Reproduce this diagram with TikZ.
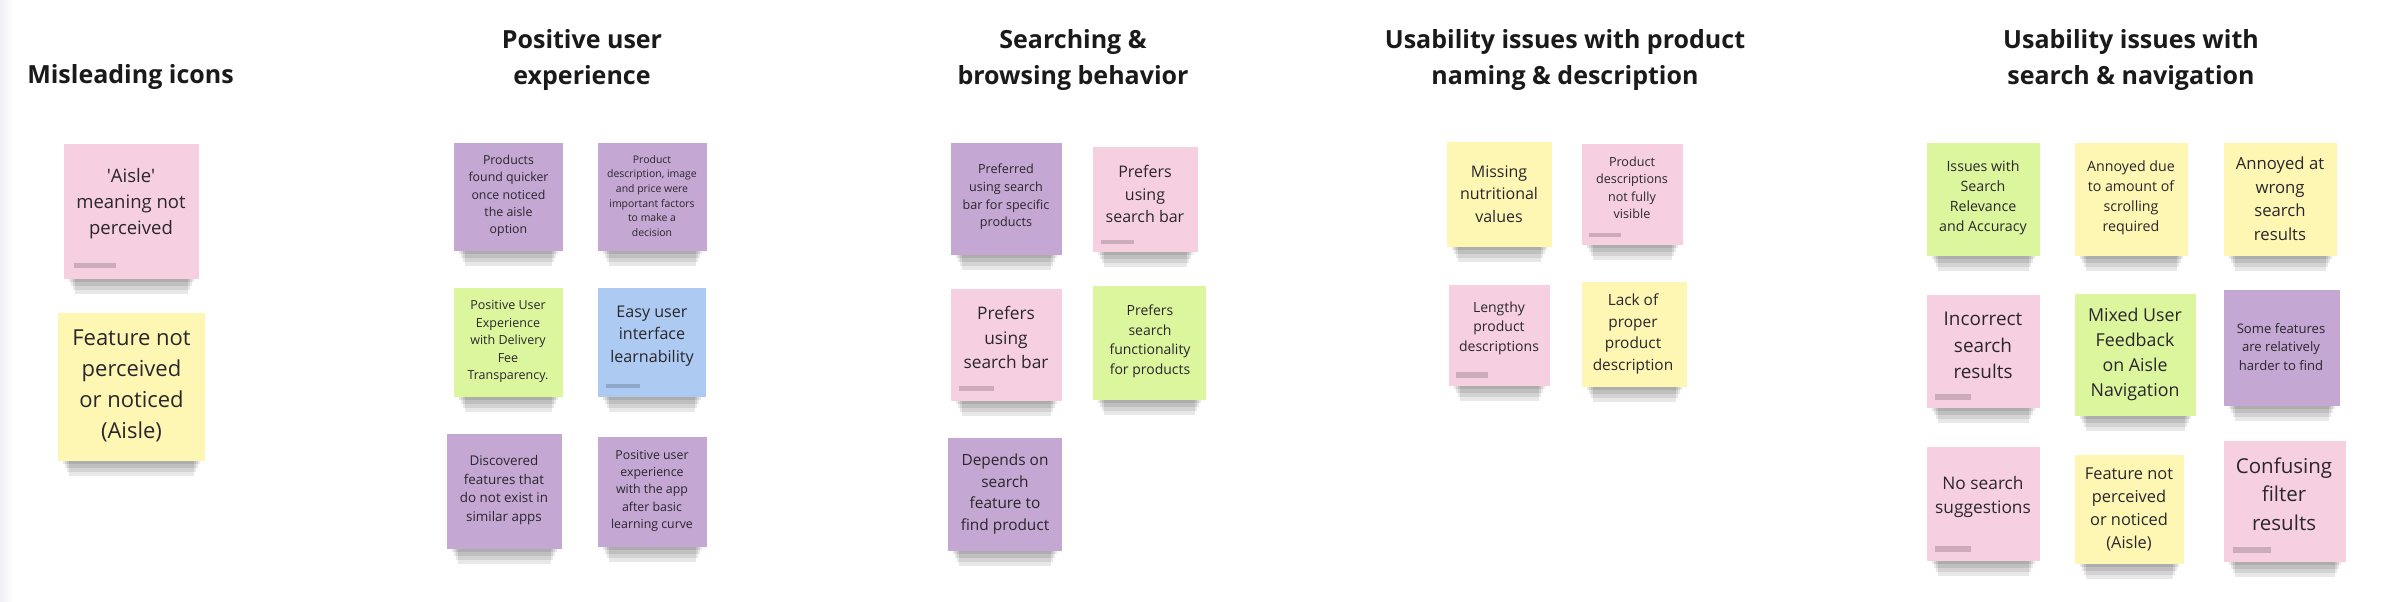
\documentclass[tikz,border=0pt]{standalone}
\usepackage{fontspec}
\setmainfont{Open Sans}
\usepackage{xcolor}
\usepackage{tikz}

\definecolor{notepink}{RGB}{246,208,224}
\definecolor{noteyellow}{RGB}{254,247,180}
\definecolor{notepurple}{RGB}{196,167,210}
\definecolor{notegreen}{RGB}{220,246,158}
\definecolor{noteblue}{RGB}{173,203,242}
\definecolor{notetext}{RGB}{42,38,44}
\definecolor{headtext}{RGB}{26,26,26}
\definecolor{sidestrip}{RGB}{240,240,245}

% sticky note with its soft shadow: colour, x1, y1, x2, y2 (pixels, y down)
\newcommand{\stickynote}[5]{%
  \foreach \k in {1,...,4}
    \fill[black, opacity=0.09] ({#2+3+2*\k},{#5-2}) rectangle ({#4-3-2*\k},{#5+4*\k-1});
  \fill[#1] (#2,#3) rectangle (#4,#5);
}

\begin{document}
\begin{tikzpicture}[x=1pt, y=-1pt,
    heading/.style={align=center, inner sep=0pt, text=headtext,
      font=\fontsize{25}{36}\selectfont\bfseries},
    note/.style={align=center, inner sep=0pt, text=notetext},
    tagbar/.style={fill=black, opacity=0.17}]

    % Board
    \useasboundingbox (0,0) rectangle (2388,602);
    \fill[white] (0,0) rectangle (2388,602);
    \shade[left color=sidestrip, right color=white] (0,0) rectangle (14,602);

    % Misleading icons
    \node[heading] (misleading) at (130.5,77.5) {Misleading icons};
    \stickynote{notepink}{64}{144}{199}{279}
    \fill[tagbar] (74,263) rectangle (116,268);
    \node[note, font=\fontsize{18.5}{25.9}\selectfont] (aislemeaning) at (131,203.3)
        {\textquotesingle Aisle\textquotesingle\\meaning not\\perceived};
    \stickynote{noteyellow}{58}{313}{205}{461}
    \node[note, font=\fontsize{22}{30.7}\selectfont] (featureone) at (131.5,385.9)
        {Feature not\\perceived\\or noticed\\(Aisle)};

    % Positive user experience
    \node[heading] (positive) at (582,60) {Positive user\\experience};
    \stickynote{notepurple}{454}{143}{563}{251}
    \node[note, font=\fontsize{12.35}{17.3}\selectfont] (quicker) at (508.5,195.8)
        {Products\\found quicker\\once noticed\\the aisle\\option};
    \stickynote{notepurple}{598}{143}{707}{251}
    \node[note, font=\fontsize{10.45}{14.6}\selectfont] (factors) at (652,195.8)
        {Product\\description, image\\and price were\\important factors\\to make a\\decision};
    \stickynote{notegreen}{454}{288}{563}{397}
    \node[note, font=\fontsize{12.5}{17.5}\selectfont] (deliveryfee) at (508,341.5)
        {Positive User\\Experience\\with Delivery\\Fee\\Transparency.};
    \stickynote{noteblue}{598}{288}{706}{397}
    \fill[tagbar] (606,383.6) rectangle (640,388.2);
    \node[note, font=\fontsize{16.1}{22.6}\selectfont] (learnability) at (652,335.8)
        {Easy user\\interface\\learnability};
    \stickynote{notepurple}{447}{434}{562}{549}
    \node[note, font=\fontsize{13.4}{18.8}\selectfont] (discovered) at (504,490)
        {Discovered\\features that\\do not exist in\\similar apps};
    \stickynote{notepurple}{598}{436.5}{707}{547}
    \node[note, font=\fontsize{12.35}{17.3}\selectfont] (learningcurve) at (652,490.7)
        {Positive user\\experience\\with the app\\after basic\\learning curve};

    % Searching & browsing behavior
    \node[heading] (searching) at (1073,60) {Searching \&\\browsing behavior};
    \stickynote{notepurple}{951}{143}{1062}{254.5}
    \node[note, font=\fontsize{12.6}{17.6}\selectfont] (specific) at (1006,197)
        {Preferred\\using search\\bar for specific\\products};
    \stickynote{notepink}{1093}{147.4}{1198}{252.2}
    \fill[tagbar] (1101,239.6) rectangle (1134,244.2);
    \node[note, font=\fontsize{16}{22.5}\selectfont] (searchbarone) at (1145,194)
        {Prefers\\using\\search bar};
    \stickynote{notepink}{951}{289}{1062}{401}
    \fill[tagbar] (959,385.9) rectangle (994,390.5);
    \node[note, font=\fontsize{17.3}{24.2}\selectfont] (searchbartwo) at (1006,337.5)
        {Prefers\\using\\search bar};
    \stickynote{notegreen}{1093}{285.7}{1206}{399.7}
    \node[note, font=\fontsize{14}{19.6}\selectfont] (functionality) at (1150,341.5)
        {Prefers\\search\\functionality\\for products};
    \stickynote{notepurple}{948}{437.7}{1062}{550.6}
    \node[note, font=\fontsize{15.4}{21.5}\selectfont] (depends) at (1005,494)
        {Depends on\\search\\feature to\\find product};

    % Usability issues with product naming & description
    \node[heading] (naming) at (1565,60) {Usability issues with product\\naming \& description};
    \stickynote{noteyellow}{1447}{141.7}{1552}{246.5}
    \node[note, font=\fontsize{16}{22.5}\selectfont] (nutrition) at (1499,194)
        {Missing\\nutritional\\values};
    \stickynote{notepink}{1582}{144}{1683}{245.3}
    \fill[tagbar] (1589,232.7) rectangle (1621,237.3);
    \node[note, font=\fontsize{12.6}{17.6}\selectfont] (notvisible) at (1632,187.7)
        {Product\\descriptions\\not fully\\visible};
    \stickynote{notepink}{1449}{284.5}{1550}{385.9}
    \fill[tagbar] (1456,372) rectangle (1488,377.8);
    \node[note, font=\fontsize{14}{19.6}\selectfont] (lengthy) at (1499,328.3)
        {Lengthy\\product\\descriptions};
    \stickynote{noteyellow}{1582}{282.2}{1687}{387}
    \node[note, font=\fontsize{15.4}{21.5}\selectfont] (lackof) at (1633,334)
        {Lack of\\proper\\product\\description};

    % Usability issues with search & navigation
    \node[heading] (navigation) at (2131,60) {Usability issues with\\search \& navigation};
    \stickynote{notegreen}{1927}{142.8}{2040}{255.7}
    \node[note, font=\fontsize{14.2}{20}\selectfont] (relevance) at (1983,198)
        {Issues with\\Search\\Relevance\\and Accuracy};
    \stickynote{noteyellow}{2075}{142.8}{2188}{255.7}
    \node[note, font=\fontsize{14.2}{20}\selectfont] (scrolling) at (2131,198)
        {Annoyed due\\to amount of\\scrolling\\required};
    \stickynote{noteyellow}{2224}{142.8}{2337}{255.7}
    \node[note, font=\fontsize{16.7}{23.4}\selectfont] (wrongresults) at (2280,198.7)
        {Annoyed at\\wrong\\search\\results};
    \stickynote{notepink}{1927}{294.9}{2040}{407.8}
    \fill[tagbar] (1935,394) rectangle (1971,399.7);
    \node[note, font=\fontsize{18.9}{26.5}\selectfont] (incorrect) at (1983,345.5)
        {Incorrect\\search\\results};
    \stickynote{notegreen}{2075}{293.7}{2196}{415.8}
    \node[note, font=\fontsize{17.8}{25}\selectfont] (mixedfeedback) at (2135,354.2)
        {Mixed User\\Feedback\\on Aisle\\Navigation};
    \stickynote{notepurple}{2224}{290.3}{2340}{405.5}
    \node[note, font=\fontsize{13.1}{18.4}\selectfont] (harder) at (2281,346.7)
        {Some features\\are relatively\\harder to find};
    \stickynote{notepink}{1927}{446.9}{2040}{561}
    \fill[tagbar] (1935,546) rectangle (1971,551.7);
    \node[note, font=\fontsize{17.3}{24.2}\selectfont] (nosuggestions) at (1983,497)
        {No search\\suggestions};
    \stickynote{noteyellow}{2075}{455}{2184}{564.4}
    \node[note, font=\fontsize{16.4}{23}\selectfont] (featuretwo) at (2129,509)
        {Feature not\\perceived\\or noticed\\(Aisle)};
    \stickynote{notepink}{2224}{441.2}{2346}{562}
    \fill[tagbar] (2233,547) rectangle (2271,553);
    \node[note, font=\fontsize{20.5}{28.8}\selectfont] (filter) at (2284,494.2)
        {Confusing\\filter\\results};
\end{tikzpicture}
\end{document}
